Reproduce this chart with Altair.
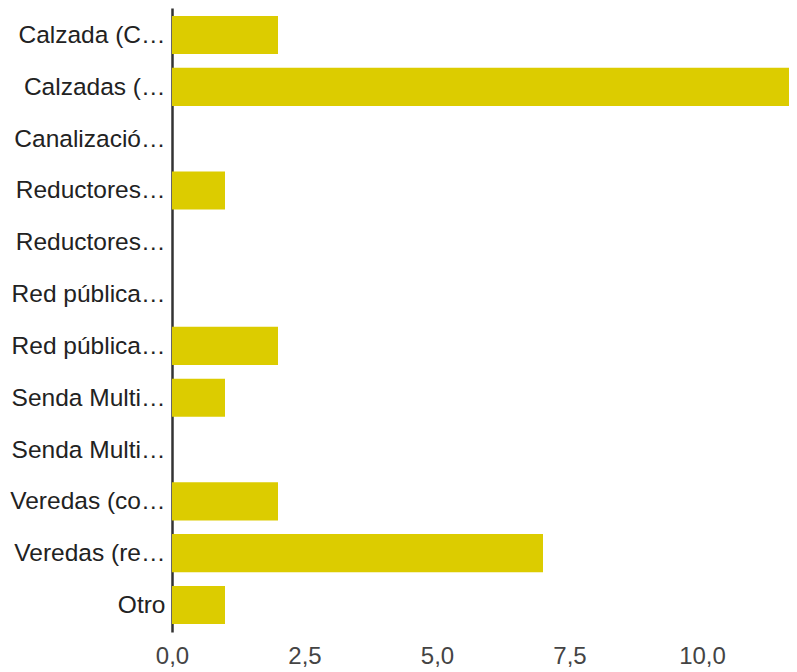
import altair as alt
import pandas as pd

categories = [
    "Calzada (C…",
    "Calzadas (…",
    "Canalizació…",
    "Reductores…",
    "Reductores… ",
    "Red pública…",
    "Red pública… ",
    "Senda Multi…",
    "Senda Multi… ",
    "Veredas (co…",
    "Veredas (re…",
    "Otro",
]
values = [2, 12, 0, 1, 0, 0, 2, 1, 0, 2, 7, 1]
x_ticks = [0, 2.5, 5, 7.5, 10]

df = pd.DataFrame({"cat": categories, "val": values})

chart = (
    alt.Chart(df)
    .mark_bar(color="#DCCC00", clip=True)
    .encode(
        x=alt.X(
            "val:Q",
            scale=alt.Scale(domain=[0, 12], range=[0, 636], nice=False, zero=True),
            axis=alt.Axis(
                values=x_ticks,
                labelExpr="replace(format(datum.value, '.1f'), '.', ',')",
                title=None,
                grid=False,
                domain=False,
                ticks=False,
                labelFont="Liberation Sans",
                labelFontSize=24,
                labelColor="#444444",
                labelPadding=12,
                labelFlush=False,
            ),
        ),
        y=alt.Y(
            "cat:N",
            sort=None,
            scale=alt.Scale(paddingInner=0.265, paddingOuter=0.154),
            axis=alt.Axis(
                title=None,
                ticks=False,
                domainColor="#333333",
                domainWidth=2.5,
                labelFont="Liberation Sans",
                labelFontSize=24.5,
                labelColor="#222222",
                labelPadding=7,
                labelLimit=300,
                labelOffset=1,
            ),
        ),
    )
    .properties(
        width=617,
        height=624,
        autosize=alt.AutoSizeParams(type="none"),
        padding={"left": 164, "top": 0, "right": 0, "bottom": 40},
    )
    .configure_view(stroke=None)
)

chart.save("out.html", embed_options={"renderer": "svg", "actions": False})
